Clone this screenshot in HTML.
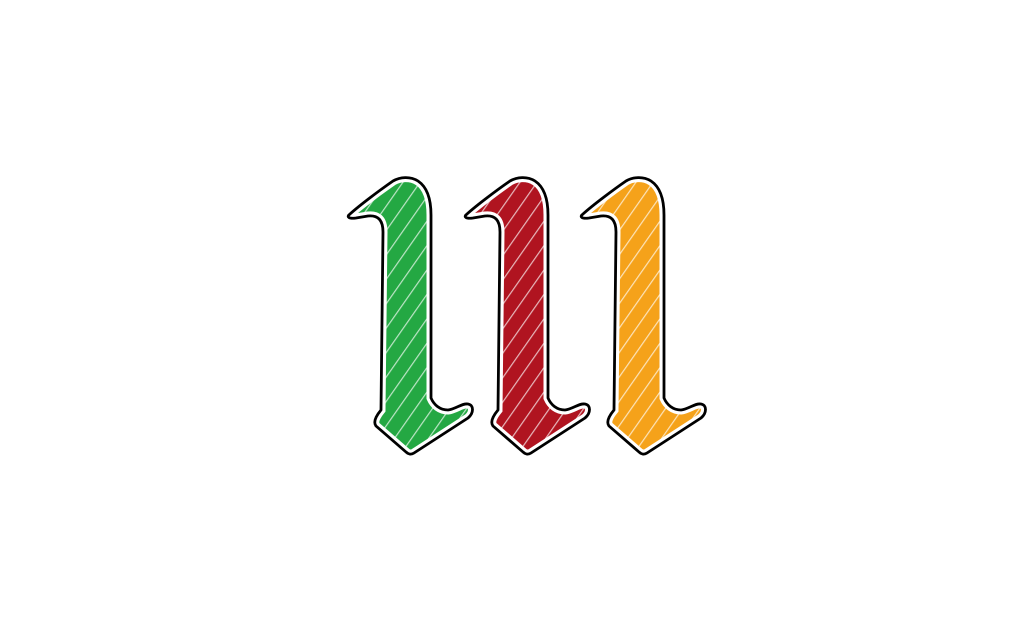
<!DOCTYPE html>
<html><head><style>body{margin:0;background:#fff}svg{display:block}</style></head><body>
<svg width="1024" height="640" viewBox="0 0 1024 640" xmlns="http://www.w3.org/2000/svg">
<defs>
<path id="g" d="M350,214 C360,205 380,190 393,181 C400,177 410,176 418,181 C427,187 431,198 431,215 L431,398 C434,405 440,410 448,410 C456,409 462,403 468,404 C474,405 474,413 468,418 L414,453 C411,455 408,454 406,452 L376,426 C373,422 376,416 381,410 L383,232 C383,220 378,215 368,216 L356,218 C349,219 346,217 350,214 Z"/>
<clipPath id="c"><use href="#g"/></clipPath>
<pattern id="h" width="14" height="14" patternUnits="userSpaceOnUse" patternTransform="rotate(-55)">
<rect width="14" height="14" fill="none"/><rect x="0" y="0" width="14" height="1.2" fill="#fff"/>
</pattern>
<g id="letter">
<g clip-path="url(#c)">
<use href="#g" fill="currentColor"/>
<rect x="340" y="170" width="140" height="290" fill="url(#h)" opacity="0.7"/>
<use href="#g" fill="none" stroke="#fff" stroke-width="9"/>
</g>
<use href="#g" fill="none" stroke="#000" stroke-width="2.8" stroke-linejoin="round"/>
</g>
</defs>
<use href="#letter" color="#24a843"/>
<use href="#letter" transform="translate(117,0)" color="#b01420"/>
<use href="#letter" transform="translate(233,0)" color="#f5a21a"/>
</svg>
</body></html>
